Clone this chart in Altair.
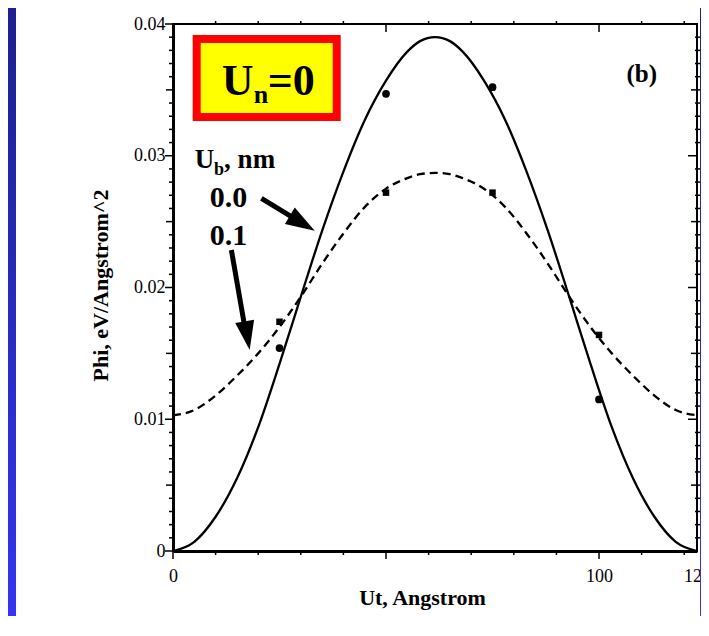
import altair as alt
import pandas as pd

# ---------------- data ----------------
curve_x = [0, 5, 10, 15, 20, 25, 30, 35, 40, 45, 50, 55, 58, 61.5,
           65, 68, 73, 78, 83, 88, 93, 98, 103, 108, 113, 118, 123]
phi_ub00 = [0.0, 0.0007, 0.0026, 0.0055, 0.0094, 0.0142, 0.0193, 0.0243, 0.0288,
            0.0327, 0.0357, 0.0379, 0.0387, 0.0390, 0.0387, 0.0379, 0.0357, 0.0327, 0.0288,
            0.0243, 0.0193, 0.0142, 0.0094, 0.0055, 0.0026, 0.0007, 0.0]
phi_ub01 = [0.0103, 0.0107, 0.0118, 0.0133, 0.0150, 0.0170, 0.0193, 0.0218, 0.0241,
            0.0261, 0.0275, 0.0283, 0.0286, 0.0287, 0.0286, 0.0283, 0.0275, 0.0261, 0.0241,
            0.0218, 0.0193, 0.0170, 0.0150, 0.0133, 0.0118, 0.0107, 0.0103]

pts_x = [25, 50, 75, 100]
pts_ub00 = [0.0154, 0.0347, 0.0352, 0.0115]
pts_ub01 = [0.0174, 0.0272, 0.0272, 0.0164]

x_label_values = [0, 100, 123]
y_label_values = [0, 0.01, 0.02, 0.03, 0.04]
x_ticks_minor = [10, 20, 30, 40, 60, 70, 80, 90, 110, 120]
x_ticks_major = [0, 50, 100]
y_ticks_all = [round(i * 0.001, 3) for i in range(41)]
y_ticks_major = [0, 0.01, 0.02, 0.03, 0.04]
y_ticks_mid = [0.005, 0.015, 0.025, 0.035]
y_ticks_minor = [v for v in y_ticks_all if v not in y_ticks_major and v not in y_ticks_mid]

# annotations (data coordinates)
ann_text = ["U", "n", "=0", "(b)", "U", "b", ", nm", "0.0", "0.1"]
ann_x = [11.43, 18.94, 22.23, 106.46, 5.09, 9.6, 12.0, 8.61, 8.61]
ann_y = [0.03461, 0.0340, 0.03461, 0.0356, 0.02907, 0.02854, 0.02907, 0.02611, 0.02323]
ann_size = [44, 26, 44, 25, 27, 18, 27, 30, 30]

box_x = [5.56]
box_x2 = [38.43]
box_y = [0.03886]
box_y2 = [0.03294]

arrow_x0 = [20.75, 13.7]
arrow_y0 = [0.02677, 0.02285]
arrow_x1 = [30.2, 17.18]
arrow_y1 = [0.0249, 0.01639]
tip_x = [33.26, 18.0]
tip_y = [0.02431, 0.01526]
tip_angle = [121, 170]

# ---------------- chart ----------------
W, H = 524, 527
FONT = "Liberation Serif"
xs = alt.Scale(domain=[0, 123], nice=False, zero=False)
ys = alt.Scale(domain=[0, 0.04], nice=False, zero=False)

xax = alt.Axis(
    title="Ut, Angstrom", values=x_label_values, ticks=False, tickSize=0, domain=True,
    domainColor="black", domainWidth=3, labelPadding=16, labelFlush=False, labelOverlap=False,
    labelFont=FONT, labelFontSize=18, labelColor="black",
    titleFont=FONT, titleFontSize=22, titleFontWeight="bold", titleColor="black",
    titleX=249, titleY=53, titleBaseline="alphabetic", titleAlign="center", grid=False)
yax = alt.Axis(
    title="Phi, eV/Angstrom^2", values=y_label_values, ticks=False, tickSize=0, domain=True,
    domainColor="black", domainWidth=3, labelPadding=8, labelFlush=False, labelOverlap=False,
    labelExpr="datum.value == 0 ? '0' : format(datum.value, '.2f')",
    labelFont=FONT, labelFontSize=18, labelColor="black",
    titleFont=FONT, titleFontSize=22, titleFontWeight="bold", titleColor="black",
    titleX=-66, titleY=261, titleAngle=270, titleBaseline="alphabetic", titleAlign="center", grid=False)


def X(f):
    return alt.X(f, type="quantitative", scale=xs, axis=xax)


def Y(f):
    return alt.Y(f, type="quantitative", scale=ys, axis=yax)


curves = pd.DataFrame({"x": curve_x, "s": phi_ub00, "d": phi_ub01})
pts = pd.DataFrame({"x": pts_x, "c": pts_ub00, "q": pts_ub01})

solid = alt.Chart(curves).mark_line(color="black", strokeWidth=2.3, interpolate="monotone").encode(
    x=X("x"), y=Y("s"))
dashed = alt.Chart(curves).mark_line(color="black", strokeWidth=2.3, strokeDash=[8, 5],
                                     interpolate="monotone").encode(x=X("x"), y=Y("d"))
circles = alt.Chart(pts).mark_point(shape="circle", filled=True, size=60, color="black", opacity=1).encode(
    x=X("x"), y=Y("c"))
squares = alt.Chart(pts).mark_point(shape="square", filled=True, size=42, color="black", opacity=1).encode(
    x=X("x"), y=Y("q"))


def vticks(vals, y0, y1):
    return alt.Chart(pd.DataFrame({"v": vals})).mark_rule(color="black", strokeWidth=1.5).encode(
        x=X("v"), y=alt.value(y0), y2=alt.value(y1))


def hticks(vals, x0, x1):
    return alt.Chart(pd.DataFrame({"v": vals})).mark_rule(color="black", strokeWidth=1.5).encode(
        y=Y("v"), x=alt.value(x0), x2=alt.value(x1))


ticks = [
    vticks(x_ticks_minor, H, H + 4), vticks(x_ticks_major, H, H + 8),
    vticks(x_ticks_minor, -3, 0), vticks([50, 100], 0, 8),
    hticks(y_ticks_minor, -4, 0), hticks(y_ticks_mid, -7, 0), hticks(y_ticks_major, -8, 0),
    hticks(y_ticks_minor, W - 2, W + 3), hticks(y_ticks_mid, W - 6, W + 3), hticks(y_ticks_major, W - 9, W),
]

box = alt.Chart(pd.DataFrame({"x": box_x, "x2": box_x2, "y": box_y, "y2": box_y2})).mark_rect(
    fill="#ffff00", stroke="#ff0000", strokeWidth=8).encode(
    x=X("x"), x2="x2:Q", y=Y("y"), y2="y2:Q")

texts = alt.Chart(pd.DataFrame({"t": ann_text, "x": ann_x, "y": ann_y, "fs": ann_size})).mark_text(
    font=FONT, fontWeight="bold", color="black", align="left", baseline="alphabetic").encode(
    x=X("x"), y=Y("y"), text="t:N", size=alt.Size("fs:Q", scale=None, legend=None))

arrows_df = pd.DataFrame({"x0": arrow_x0, "y0": arrow_y0, "x1": arrow_x1, "y1": arrow_y1,
                          "tx": tip_x, "ty": tip_y, "a": tip_angle})
shafts = alt.Chart(arrows_df).mark_rule(color="black", strokeWidth=5).encode(
    x=X("x0"), x2="x1:Q", y=Y("y0"), y2="y1:Q")
heads = alt.Chart(arrows_df).mark_point(shape="M0,0L-0.66,2L0.66,2Z", filled=True, size=841,
                                        color="black", opacity=1).encode(
    x=X("tx"), y=Y("ty"), angle=alt.Angle("a:Q", scale=None))

grad = alt.Gradient(gradient="linear", x1=0, x2=0, y1=0, y2=1,
                    stops=[alt.GradientStop(color="#1f1f8e", offset=0),
                           alt.GradientStop(color="#3535f2", offset=1)])
one = pd.DataFrame({"k": [0]})
strip_left = alt.Chart(one).mark_rect(color=grad).encode(
    x=alt.value(-165), x2=alt.value(-157), y=alt.value(-16), y2=alt.value(600))
strip_right = alt.Chart(one).mark_rect(color=grad).encode(
    x=alt.value(W + 3), x2=alt.value(W + 4), y=alt.value(-16), y2=alt.value(600))

chart = alt.layer(solid, dashed, circles, squares, *ticks, box, texts, shafts, heads,
                  strip_left, strip_right).properties(
    width=W, height=H,
    autosize=alt.AutoSizeParams(type="none"),
    padding={"left": 165, "top": 16, "right": 4, "bottom": 65},
    background="white",
).configure_view(stroke="black", strokeWidth=2)

chart.save("out.html", embed_options={"renderer": "svg", "actions": False})
